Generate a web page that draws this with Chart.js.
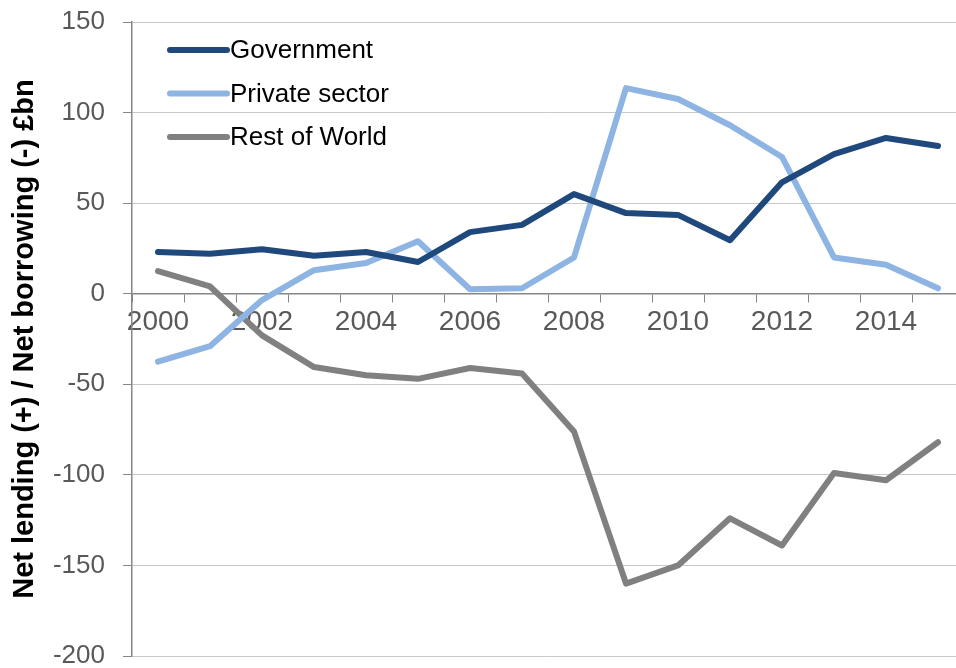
<!DOCTYPE html>
<html>
<head>
<meta charset="utf-8">
<script src="https://cdn.jsdelivr.net/npm/chart.js@4"></script>
<style>
  html, body { margin: 0; padding: 0; background: #fff; overflow: hidden; }
  .wrap { position: relative; width: 970px; height: 668px; }
</style>
</head>
<body>
<div class="wrap"><canvas id="chart"></canvas></div>
<script>
const years = ['2000','2001','2002','2003','2004','2005','2006','2007','2008','2009','2010','2011','2012','2013','2014','2015'];
const government = [23, 22, 24.5, 21, 23, 17.5, 34, 38, 55, 44.5, 43.5, 29.5, 61.5, 77, 86, 81.5];
const privateSector = [-37.5, -29, -3.5, 13, 17, 29, 2.5, 3, 20, 113.5, 107.5, 93, 75.5, 20, 16, 3];
const restOfWorld = [12.5, 4, -23, -40.5, -45, -47, -41, -44, -76, -160, -150, -124, -139, -99, -103, -82];
const yTicks = [-200, -150, -100, -50, 0, 50, 100, 150];

const FONT = '"Liberation Sans", Arial, sans-serif';

// legend drawn inside the plot, top-left, like the original
const insideLegend = {
  id: 'insideLegend',
  afterDatasetsDraw(chart) {
    const { ctx, chartArea } = chart;
    const x0 = chartArea.left + 38, x1 = chartArea.left + 95;
    ctx.save();
    chart.data.datasets.forEach((ds, i) => {
      const y = chartArea.top + 28 + i * 43.5;
      ctx.strokeStyle = ds.borderColor;
      ctx.lineWidth = 6;
      ctx.lineCap = 'round';
      ctx.beginPath();
      ctx.moveTo(x0, y);
      ctx.lineTo(x1, y);
      ctx.stroke();
      ctx.fillStyle = '#000';
      ctx.font = '26px ' + FONT;
      ctx.textBaseline = 'middle';
      ctx.textAlign = 'left';
      ctx.fillText(ds.label, x1 + 3, y + 1);
    });
    ctx.restore();
  }
};

const lineStyle = { fill: false, tension: 0, borderWidth: 6, pointRadius: 0, borderJoinStyle: 'round', borderCapStyle: 'round' };

new Chart(document.getElementById('chart'), {
  type: 'line',
  data: {
    labels: years,
    datasets: [
      { label: 'Government', data: government, borderColor: '#1F497D', ...lineStyle },
      { label: 'Private sector', data: privateSector, borderColor: '#8DB4E2', ...lineStyle },
      { label: 'Rest of World', data: restOfWorld, borderColor: '#808080', ...lineStyle }
    ]
  },
  options: {
    responsive: true,
    maintainAspectRatio: false,
    animation: false,
    layout: { padding: { top: 22, right: 6, bottom: 12, left: 0 } },
    plugins: { legend: { display: false }, tooltip: { enabled: false } },
    scales: {
      x: {
        position: { y: 0 },
        offset: true,
        grid: { offset: true, drawOnChartArea: false, drawTicks: true, tickLength: 8, color: '#868686' },
        border: { display: true, color: '#868686', width: 1.5 },
        ticks: {
          autoSkip: false, maxRotation: 0, padding: 4, color: '#595959',
          font: { family: FONT, size: 28 },
          callback: (v, i) => (i % 2 === 0 ? years[i] : '')
        }
      },
      y: {
        min: yTicks[0],
        max: yTicks[yTicks.length - 1],
        afterBuildTicks: s => { s.ticks = yTicks.map(v => ({ value: v })); },
        afterFit: s => { s.width = 132; s.paddingTop = 0; s.paddingBottom = 0; },
        grid: { color: '#C8C8C8', tickColor: '#868686', tickLength: 9, lineWidth: 1 },
        border: { display: true, color: '#868686', width: 1.5 },
        ticks: { padding: 18, color: '#595959', font: { family: FONT, size: 26 } },
        title: {
          display: true,
          text: 'Net lending (+) / Net borrowing (-) £bn',
          color: '#000',
          font: { family: FONT, size: 29, weight: 'bold' },
          padding: { top: 8, bottom: 0 }
        }
      }
    }
  },
  plugins: [insideLegend]
});
</script>
</body>
</html>
